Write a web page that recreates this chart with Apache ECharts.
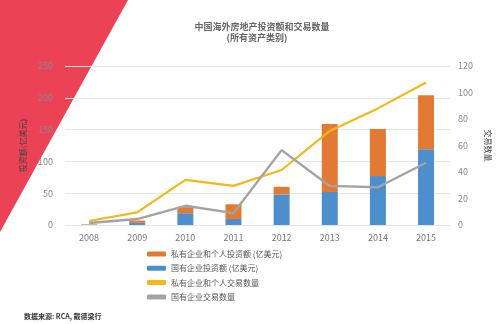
<!DOCTYPE html>
<html>
<head>
<meta charset="utf-8">
<script src="https://cdn.jsdelivr.net/npm/echarts@6/dist/echarts.min.js"></script>
<style>
  html, body { margin: 0; padding: 0; background: #fff; }
  #chart { width: 500px; height: 324px; }
</style>
</head>
<body>
<div id="chart"></div>
<script>
// 中国海外房地产投资额和交易数量 (所有资产类别), 2008–2015
var years = ['2008', '2009', '2010', '2011', '2012', '2013', '2014', '2015'];
var privateInvest = [0.5, 3.5, 9.5, 23, 12, 107, 74, 85];     // 亿美元
var stateInvest   = [0.5, 3.5, 18.5, 9.5, 48, 52, 77, 119];   // 亿美元
var privateDeals  = [3, 9.5, 34, 29.5, 41.5, 71, 88, 107.5];   // 笔
var stateDeals    = [1.5, 4.5, 14.5, 9, 56.5, 29.5, 28.5, 47];  // 笔
var leftTicks  = { min: 0, max: 250, interval: 50 };
var rightTicks = { min: 0, max: 120, interval: 20 };

var names = ['私有企业和个人投资额 (亿美元)', '国有企业投资额 (亿美元)', '私有企业和个人交易数量', '国有企业交易数量'];
var colors = { orange: '#E37A33', blue: '#4D8FCC', yellow: '#F4B71A', gray: '#A3A3A3' };
var font = '"Noto Sans CJK SC", "Noto Sans", sans-serif';

var chart = echarts.init(document.getElementById('chart'), null, { renderer: 'canvas' });
chart.setOption({
  animation: false,
  textStyle: { fontFamily: font },
  graphic: [
    {
      type: 'polygon', z: -10, silent: true,
      shape: { points: [[0, 0], [128, 0], [0, 232]] },
      style: { fill: '#EC4256' }
    },
    {
      type: 'text', x: 262, y: 22,
      style: { text: '中国海外房地产投资额和交易数量', align: 'center', fill: '#666', font: 'bold 9px ' + font }
    },
    {
      type: 'text', x: 257, y: 33,
      style: { text: '(所有资产类别)', align: 'center', fill: '#666', font: 'bold 9px ' + font }
    },
    {
      type: 'text', x: 24, y: 313,
      style: { text: '数据来源: RCA, 戴德梁行', fill: '#333', font: 'bold 7px ' + font }
    }
  ],
  grid: { left: 65, right: 47, top: 66, bottom: 99 },
  legend: {
    data: names,
    orient: 'vertical',
    left: 142, top: 243,
    itemWidth: 19, itemHeight: 5, itemGap: 2.3,
    icon: 'roundRect',
    textStyle: { fontSize: 8, color: '#555', fontFamily: font, lineHeight: 12 }
  },
  xAxis: {
    type: 'category',
    data: years,
    axisLine: { show: false },
    axisTick: { show: false },
    axisLabel: { color: '#777', fontSize: 9, margin: 8 }
  },
  yAxis: [
    {
      type: 'value',
      min: leftTicks.min, max: leftTicks.max, interval: leftTicks.interval,
      name: '投资额(亿美元)', nameLocation: 'middle', nameRotate: 90, nameGap: 37,
      nameTextStyle: { color: '#444', fontSize: 8 },
      axisLabel: { color: '#888', fontSize: 9, margin: 12 },
      splitLine: { lineStyle: { color: '#E6E6E6', width: 1 } },
      axisLine: { show: false }, axisTick: { show: false }
    },
    {
      type: 'value',
      min: rightTicks.min, max: rightTicks.max, interval: rightTicks.interval,
      name: '交易数量', nameLocation: 'middle', nameRotate: -90, nameGap: 27,
      nameTextStyle: { color: '#444', fontSize: 8 },
      axisLabel: { color: '#888', fontSize: 9, margin: 8 },
      splitLine: { show: false },
      axisLine: { show: false }, axisTick: { show: false }
    }
  ],
  series: [
    {
      name: names[1], type: 'bar', stack: 'invest', yAxisIndex: 0,
      barWidth: 16, data: stateInvest, itemStyle: { color: colors.blue }
    },
    {
      name: names[0], type: 'bar', stack: 'invest', yAxisIndex: 0,
      barWidth: 16, data: privateInvest, itemStyle: { color: colors.orange }
    },
    {
      name: names[2], type: 'line', yAxisIndex: 1, data: privateDeals,
      showSymbol: false, symbol: 'none', z: 3,
      lineStyle: { color: colors.yellow, width: 2.2 }, itemStyle: { color: colors.yellow }
    },
    {
      name: names[3], type: 'line', yAxisIndex: 1, data: stateDeals,
      showSymbol: false, symbol: 'none', z: 4,
      lineStyle: { color: colors.gray, width: 2.4 }, itemStyle: { color: colors.gray }
    }
  ]
});
</script>
</body>
</html>
